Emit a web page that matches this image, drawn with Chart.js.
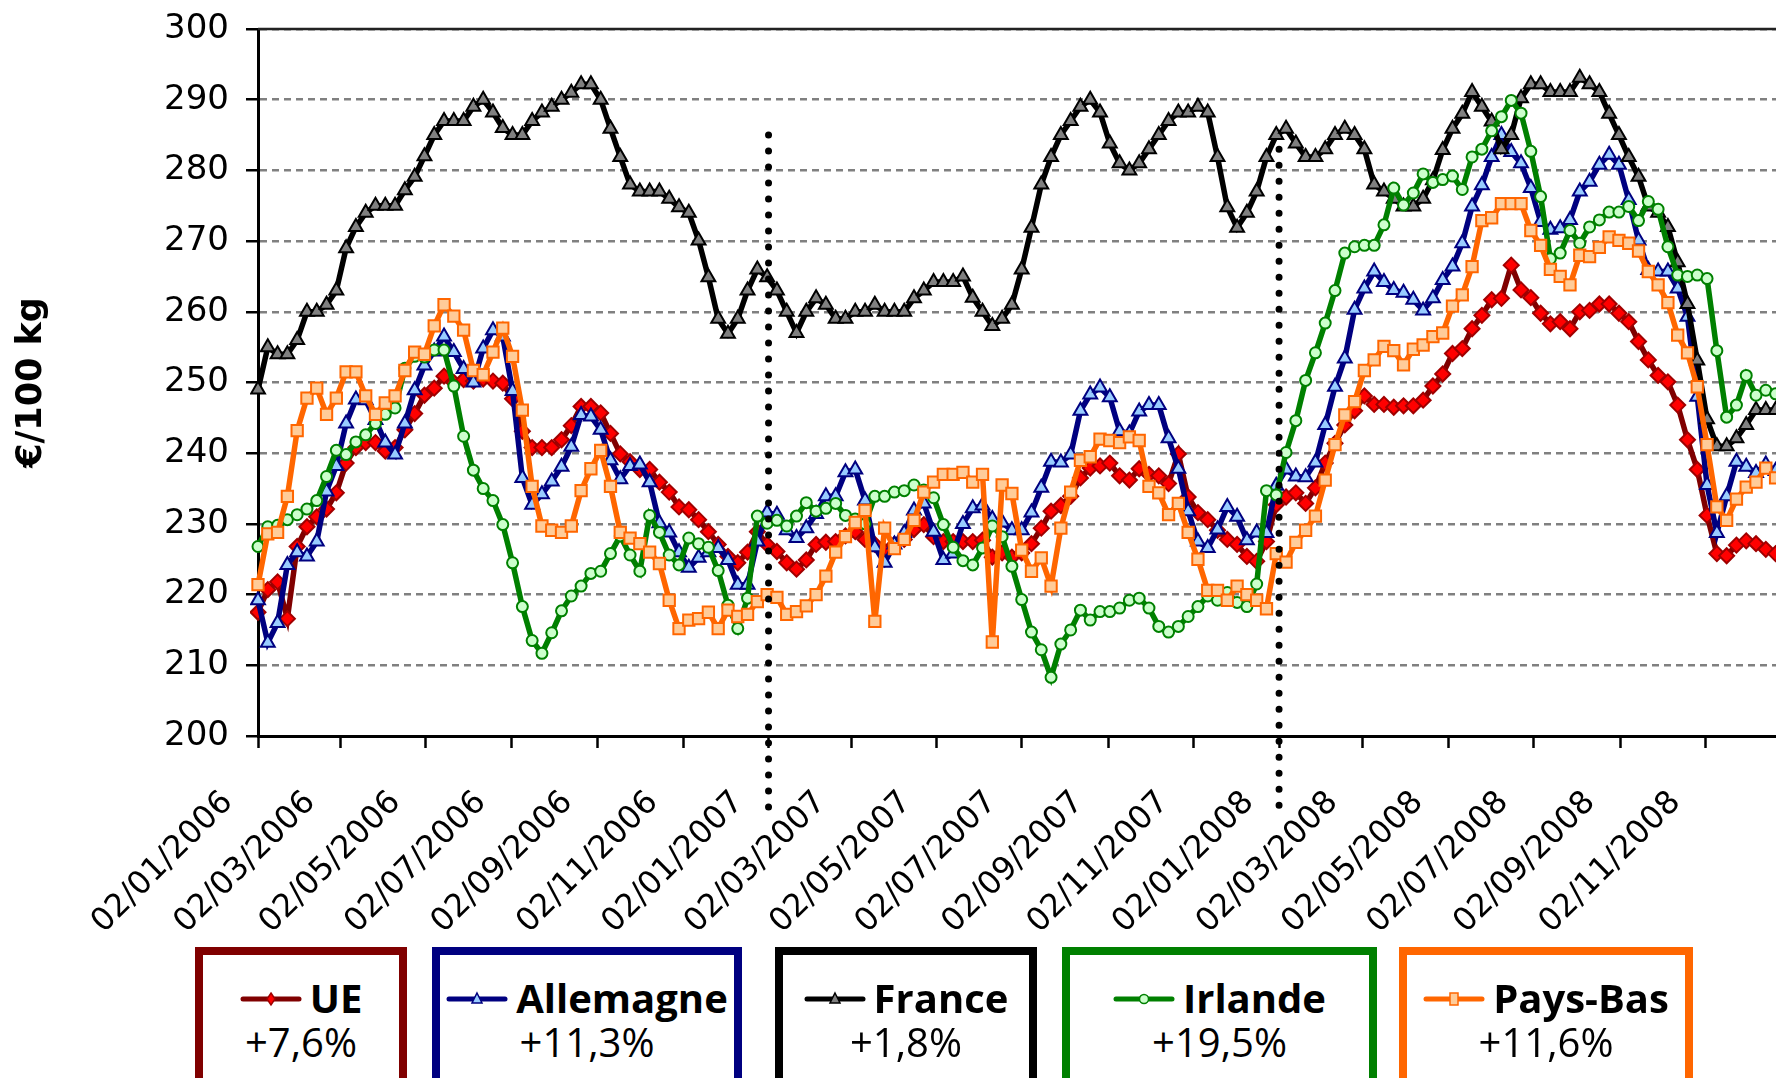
<!DOCTYPE html>
<html>
<head>
<meta charset="utf-8">
<script src="https://cdn.jsdelivr.net/npm/chart.js@4.4.1/dist/chart.umd.min.js"></script>
<style>
  html, body { margin: 0; padding: 0; background: #fff; }
  body { width: 1776px; height: 1078px; overflow: hidden; position: relative; }
  #wrap { position: absolute; left: 0; top: 0; width: 1787px; height: 1078px; }
  .lbox { position: absolute; box-sizing: border-box; background: #fff; border-style: solid; border-width: 8px; }
  .l1 { position: absolute; left: 0; right: 0; top: 20px; height: 46px; line-height: 46px; text-align: center;
        font-family: "Open Sans", "DejaVu Sans", sans-serif; font-weight: bold; font-size: 40px; color: #000; white-space: nowrap; }
  .l1 canvas { vertical-align: middle; margin-right: 8px; position: relative; top: -3px; }
  .l2 { position: absolute; left: 0; right: 0; top: 64px; height: 46px; line-height: 46px; text-align: center;
        font-family: "Open Sans", "DejaVu Sans", sans-serif; font-size: 40px; color: #000; white-space: nowrap; }
</style>
</head>
<body>
<div id="wrap"><canvas id="c" width="1787" height="1078"></canvas></div>
<script>
// ---------------- DATA ----------------
const firstWeek = '02/01/2006';           // weekly observations, one per week from this date
const tickLabels = ['02/01/2006','02/03/2006','02/05/2006','02/07/2006','02/09/2006','02/11/2006',
  '02/01/2007','02/03/2007','02/05/2007','02/07/2007','02/09/2007','02/11/2007',
  '02/01/2008','02/03/2008','02/05/2008','02/07/2008','02/09/2008','02/11/2008'];
const seriesNames = ['UE','Allemagne','France','Irlande','Pays-Bas'];
const changes = ['+7,6%','+11,3%','+1,8%','+19,5%','+11,6%'];
const yTitle = '€/100 kg';

const ue = [217.5,220.7,221.8,216.6,226.8,229.6,231.0,232.1,234.4,238.6,
  240.8,241.5,241.5,240.3,240.8,243.3,245.6,248.2,249.2,250.9,
  250.0,250.4,250.2,250.5,250.2,249.9,247.7,243.1,240.8,240.8,
  240.8,241.9,243.9,246.6,246.6,245.7,242.8,239.9,238.8,237.7,
  237.7,235.9,234.5,232.4,232.0,230.6,228.9,227.1,225.4,224.5,
  226.0,228.9,227.1,226.1,224.5,223.6,224.9,227.1,227.4,227.5,
  228.3,228.9,227.8,227.1,226.1,227.1,227.8,229.2,229.9,228.2,
  227.5,227.5,227.5,227.5,227.7,225.3,225.9,225.3,225.9,227.2,
  229.4,231.8,232.6,233.9,236.5,237.9,238.2,238.6,236.8,236.2,
  237.8,237.0,236.8,235.7,239.9,233.8,231.6,230.6,229.1,227.8,
  227.1,225.4,224.7,227.5,232.7,233.8,234.4,232.9,235.1,238.6,
  241.4,244.0,246.0,248.1,246.9,246.9,246.5,246.7,246.7,247.5,
  249.5,251.2,254.1,254.8,257.6,259.5,261.7,261.9,266.6,263.1,
  262.0,259.8,258.3,258.6,257.6,260.0,260.2,261.1,261.1,259.8,
  258.6,255.8,253.2,251.0,250.1,246.8,241.9,237.7,231.2,225.8,
  225.5,227.0,227.6,227.2,226.4,225.8];

const allemagne = [219.2,213.2,216.0,224.2,226.0,225.4,227.5,234.6,238.2,244.2,
  247.6,247.5,244.7,241.5,239.8,244.2,248.9,252.4,254.4,256.5,
  254.3,251.9,250.0,254.8,257.4,256.5,248.8,236.5,232.7,234.2,
  236.0,238.1,240.9,245.4,245.2,243.3,239.0,236.3,238.2,238.4,
  235.9,230.1,228.8,226.0,223.8,225.2,226.0,226.6,224.9,221.4,
  221.4,227.5,231.6,231.3,229.1,228.0,229.4,231.4,233.9,233.9,
  237.3,237.7,233.3,226.7,224.5,227.1,228.7,231.9,232.9,228.9,
  224.9,225.8,230.0,232.2,232.6,230.7,230.2,229.1,229.1,231.6,
  235.1,238.8,238.7,239.8,246.0,248.3,249.3,247.9,243.1,242.8,
  245.9,246.8,246.8,242.1,237.8,231.8,227.5,226.6,229.2,232.4,
  231.0,227.7,228.8,228.7,235.4,237.7,236.7,236.6,238.7,244.0,
  249.4,253.4,260.3,263.3,265.7,264.2,263.1,262.7,261.7,260.2,
  261.9,264.5,266.4,269.7,274.9,277.9,281.9,285.0,282.6,281.0,
  277.5,272.7,271.6,271.8,273.0,277.0,278.4,280.8,282.2,280.8,
  275.8,270.1,265.9,265.7,265.7,263.3,259.3,248.0,235.5,228.7,
  233.9,238.8,238.1,237.2,238.4,237.5];

const france = [249,255,254,254,256,260,260,261,263,269,
  272,274,275,275,275,277.2,279.1,282,285,287,
  287,287,289,290,288.2,286,285,285,287,288.2,
  289,290,291,292.2,292.2,290,285.9,281.9,278,277,
  277,277,276,274.8,274,270.1,264.9,259,256.9,259,
  263,266,264.9,263,260,257,260,261.9,261,259,
  259,260,260,261,260,260,260,261.9,263,264.2,
  264.2,264.2,265,262,260,258,259,261,266,271.9,
  278,281.9,285,287,289,290,288.2,283.8,281,280,
  281,283,285,287,288.2,288.2,289,288.2,281.9,274.8,
  271.9,274,277,281.9,285,285.9,283.8,281.9,281.9,283,
  285,285.9,285,283,278,277,276,274.9,274.9,276,
  278.6,282.9,285.9,288,291.1,289,286.9,283,285,290.2,
  292.2,292.2,291.1,291.1,291.1,293.1,292.2,291.1,288,285,
  281.9,279.1,274.9,274,272,267,261.1,253.1,244.8,241,
  241,242.1,244,246.1,246.1,246.1];

const irlande = [226.8,229.6,229.8,230.6,231.3,232.1,233.3,236.7,240.4,239.8,
  241.6,242.6,244.2,245.5,246.4,252.0,253.7,253.6,254.6,254.6,
  249.5,242.4,237.6,235.0,233.3,229.9,224.5,218.3,213.5,211.7,
  214.6,217.7,219.8,221.2,223.0,223.3,225.8,228.3,225.6,223.3,
  231.2,228.8,225.6,224.2,228.0,227.2,226.7,223.4,218.5,215.2,
  219.5,231.1,230.1,230.5,229.7,231.1,233.0,231.8,232.2,232.9,
  231.2,230.7,230.0,233.9,233.9,234.5,234.7,235.5,234.8,233.7,
  229.9,226.7,224.8,224.2,226.6,229.7,228.2,224.0,219.3,214.7,
  212.2,208.3,213.0,215.0,217.8,216.4,217.6,217.6,218.1,219.2,
  219.5,218.1,215.5,214.7,215.5,216.9,218.3,219.8,219.2,220.3,
  218.9,218.3,221.5,234.7,234.1,240.1,244.6,250.3,254.2,258.4,
  263.0,268.3,269.2,269.4,269.4,272.3,277.5,275.1,276.8,279.5,
  278.3,278.7,279.2,277.3,281.9,283.0,285.6,287.6,289.9,288.1,
  282.7,276.3,267.5,268.3,271.5,269.7,272.0,273.0,274.1,274.1,
  274.9,272.9,275.6,274.5,269.2,265.2,265.0,265.2,264.7,254.5,
  245.1,246.8,251.0,248.2,248.9,248.4];

const paysBas = [221.4,228.6,228.8,233.9,243.2,247.8,249.2,245.5,247.8,251.5,
  251.5,248.1,245.5,247.1,248.1,251.7,254.3,254.0,258.0,261.0,
  259.4,257.4,251.7,251.1,254.3,257.7,253.7,246.1,235.3,229.7,
  229.1,228.8,229.7,234.7,237.8,240.4,235.3,228.8,228.0,227.2,
  226.0,224.4,219.2,215.2,216.4,216.6,217.5,215.2,217.8,216.9,
  217.2,219.0,220.0,219.6,217.2,217.6,218.4,220.0,222.6,226.0,
  228.2,230.2,231.9,216.2,229.4,226.5,227.8,230.5,234.5,235.9,
  237.0,237.0,237.3,235.9,237.0,213.3,235.5,234.3,226.3,223.3,
  225.2,221.2,229.4,234.5,239.0,239.5,242.0,241.8,241.5,242.3,
  241.8,235.3,234.4,231.3,232.9,228.8,225.0,220.6,220.6,219.2,
  221.2,220.0,219.2,218.0,225.8,224.6,227.4,229.1,231.1,236.2,
  241.2,245.4,247.3,251.7,253.2,255.1,254.5,252.5,254.7,255.3,
  256.5,257.0,260.8,262.4,266.4,272.9,273.3,275.3,275.3,275.3,
  271.5,269.4,266.0,265.0,263.8,268.0,267.8,269.1,270.6,270.1,
  269.7,268.6,265.7,263.8,261.3,256.7,254.2,249.4,241.2,232.4,
  230.5,233.5,235.2,235.9,237.9,236.5];

// year separators (dotted vertical lines), drawn at these tick dates between two values
const separators = [{date: '02/01/2007', from: 285, to: 188.5}, {date: '02/01/2008', from: 283, to: 188.5}];

// ---------------- HELPERS ----------------
function dayOf(s) {
  const [d, m, y] = s.split('/').map(Number);
  const [d0, m0, y0] = firstWeek.split('/').map(Number);
  return Math.round((Date.UTC(y, m - 1, d) - Date.UTC(y0, m0 - 1, d0)) / 86400000);
}
const weekDays = ue.map((_, i) => 7 * i);   // day offset of each weekly observation
const tickDays = tickLabels.map(dayOf);
const toXY = arr => arr.map((v, i) => ({x: weekDays[i], y: v}));

// ---------------- STYLES ----------------
const styles = [
  {line: '#800000', fill: '#FF0000', edge: '#A00000', point: 'rectRot', r: 7.5, box: '#800000'},
  {line: '#000080', fill: '#99CCFF', edge: '#000080', point: 'triangle', r: 8, box: '#000080'},
  {line: '#000000', fill: '#808080', edge: '#000000', point: 'triangle', r: 8, box: '#000000'},
  {line: '#008000', fill: '#CCFFCC', edge: '#008000', point: 'circle', r: 5.5, box: '#008000'},
  {line: '#FF6600', fill: '#FFCC99', edge: '#FF6600', point: 'rect', r: 8, box: '#FF6600'}
];
const seriesData = [ue, allemagne, france, irlande, paysBas];
const boxLayout = [[195, 212], [432, 310], [775, 262], [1062, 315], [1399, 294]];

const datasets = seriesData.map((d, k) => ({
  label: seriesNames[k],
  data: toXY(d),
  borderColor: styles[k].line,
  borderWidth: 5.5,
  backgroundColor: styles[k].fill,
  pointStyle: styles[k].point,
  pointRadius: styles[k].r,
  pointBackgroundColor: styles[k].fill,
  pointBorderColor: styles[k].edge,
  pointBorderWidth: 2,
  tension: 0,
  order: 5 - k,
  clip: 8
}));

const overlay = {
  id: 'overlay',
  afterDatasetsDraw(chart) {
    const {ctx, chartArea, scales: {x, y}} = chart;
    ctx.save();
    ctx.strokeStyle = '#222';
    ctx.lineWidth = 2.5;
    ctx.beginPath();
    ctx.moveTo(chartArea.left, chartArea.top);
    ctx.lineTo(chartArea.right, chartArea.top);
    ctx.stroke();
    ctx.strokeStyle = '#000';
    ctx.lineWidth = 7;
    ctx.lineCap = 'round';
    ctx.setLineDash([0, 16]);
    separators.forEach(s => {
      const px = x.getPixelForValue(dayOf(s.date));
      ctx.beginPath();
      ctx.moveTo(px, y.getPixelForValue(s.from));
      ctx.lineTo(px, y.getPixelForValue(s.to));
      ctx.stroke();
    });
    ctx.restore();
  }
};

const axisFont = {family: '"DejaVu Sans", sans-serif', size: 34};

new Chart(document.getElementById('c'), {
  type: 'line',
  data: {datasets},
  plugins: [overlay],
  options: {
    responsive: false,
    animation: false,
    devicePixelRatio: 1,
    layout: {padding: {top: 29, left: 0, right: 0, bottom: 0}},
    plugins: {legend: {display: false}, tooltip: {enabled: false}},
    scales: {
      x: {
        type: 'linear',
        min: 0,
        max: 1086,
        afterBuildTicks: s => { s.ticks = tickDays.map(v => ({value: v})); },
        afterFit: s => { s.height = 342; s.paddingRight = 0; },
        ticks: {
          autoSkip: false, minRotation: 45, maxRotation: 45,
          padding: 36, labelOffset: -30,
          font: {family: '"DejaVu Sans", sans-serif', size: 32}, color: '#000',
          callback: (v, i) => tickLabels[i]
        },
        grid: {drawOnChartArea: false, drawTicks: true, tickLength: 12, tickWidth: 2.5, tickColor: '#000'},
        border: {display: true, color: '#000', width: 3}
      },
      y: {
        min: 200, max: 300,
        afterFit: s => { s.width = 258; s.paddingTop = 0; s.paddingBottom = 0; },
        ticks: {stepSize: 10, padding: 17, font: axisFont, color: '#000'},
        grid: {color: '#808080', lineWidth: 2.5, drawTicks: true, tickLength: 12, tickWidth: 2.5, tickColor: '#000'},
        border: {display: true, color: '#000', width: 3, dash: [7, 5]},
        title: {display: true, text: yTitle, color: '#000',
          font: {family: '"DejaVu Sans", sans-serif', size: 35, weight: 'bold'}, padding: {top: 11, bottom: 0}}
      }
    }
  }
});

// ---------------- LEGEND BOXES ----------------
function drawMarker(cv, st) {
  const c = cv.getContext('2d');
  const w = cv.width, h = cv.height, cx = w / 2, cy = h / 2;
  c.strokeStyle = st.line; c.lineWidth = 5; c.lineCap = 'round';
  c.beginPath(); c.moveTo(3, cy); c.lineTo(w - 3, cy); c.stroke();
  c.fillStyle = st.fill; c.strokeStyle = st.edge; c.lineWidth = 1.5;
  c.beginPath();
  const r = 5;
  if (st.point === 'rectRot') { c.moveTo(cx, cy - r - 1); c.lineTo(cx + r - 1, cy); c.lineTo(cx, cy + r + 1); c.lineTo(cx - r + 1, cy); c.closePath(); }
  else if (st.point === 'triangle') { c.moveTo(cx, cy - r - 1); c.lineTo(cx + r, cy + r - 1); c.lineTo(cx - r, cy + r - 1); c.closePath(); }
  else if (st.point === 'circle') { c.arc(cx, cy, 4.5, 0, Math.PI * 2); }
  else { c.rect(cx - 4, cy - 6, 8, 12); }
  c.fill(); c.stroke();
}
seriesNames.forEach((name, k) => {
  const b = document.createElement('div');
  b.className = 'lbox';
  b.style.left = boxLayout[k][0] + 'px';
  b.style.width = boxLayout[k][1] + 'px';
  b.style.top = '947px';
  b.style.height = '200px';
  b.style.borderColor = styles[k].box;
  const l1 = document.createElement('div'); l1.className = 'l1';
  const cv = document.createElement('canvas'); cv.width = 62; cv.height = 18;
  drawMarker(cv, styles[k]);
  l1.appendChild(cv);
  l1.appendChild(document.createTextNode(name));
  const l2 = document.createElement('div'); l2.className = 'l2';
  l2.textContent = changes[k];
  b.appendChild(l1); b.appendChild(l2);
  document.body.appendChild(b);
});
</script>
</body>
</html>
